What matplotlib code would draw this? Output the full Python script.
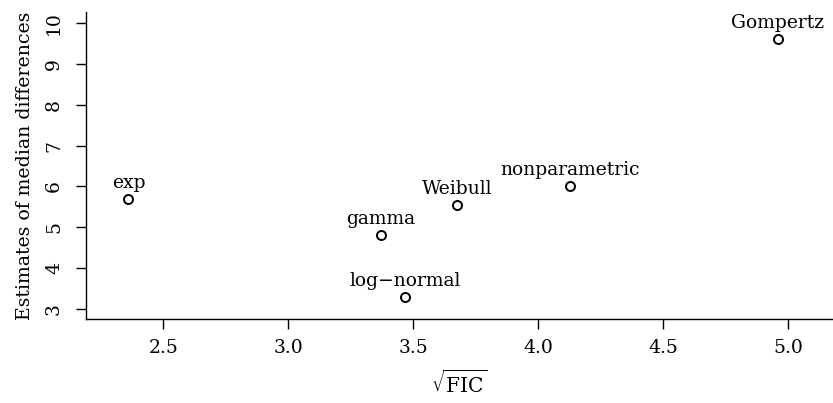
import matplotlib
matplotlib.use("Agg")
import matplotlib.pyplot as plt

# model estimates: sqrt(FIC) vs estimated median difference
models = ["exp", "gamma", "log\u2212normal", "Weibull", "nonparametric", "Gompertz"]
sqrt_fic = [2.36, 3.37, 3.466, 3.673, 4.126, 4.957]
med_diff = [5.68, 4.81, 3.28, 5.54, 6.01, 9.61]

plt.rcParams["font.family"] = ["DejaVu Serif"]
plt.rcParams["mathtext.fontset"] = "dejavuserif"

fig = plt.figure(figsize=(8.33, 4.03), dpi=100)
ax = fig.add_axes([0.1032, 0.2077, 1 - 0.1032, 0.9695 - 0.2077])

ax.plot(sqrt_fic, med_diff, "o", markersize=6.5, markerfacecolor="none",
        markeredgecolor="black", markeredgewidth=1.4, clip_on=False)
for name, x, y in zip(models, sqrt_fic, med_diff):
    ax.annotate(name, (x, y), xytext=(0, 5), textcoords="offset points",
                ha="center", va="bottom", fontsize=13.5)

ax.set_xlim(2.19, 5.178)
ax.set_ylim(2.74, 10.27)
ax.set_xticks([2.5, 3.0, 3.5, 4.0, 4.5, 5.0])
ax.set_yticks(range(3, 11))

for s in ["top", "right"]:
    ax.spines[s].set_visible(False)
for s in ["left", "bottom"]:
    ax.spines[s].set_linewidth(1.0)

ax.tick_params(axis="both", length=7.5, width=1.0, labelsize=13.5)
ax.tick_params(axis="x", pad=7)
ax.tick_params(axis="y", pad=9)
for lab in ax.get_yticklabels():
    lab.set_rotation(90)
    lab.set_va("center")

ax.set_xlabel(r"$\sqrt{\mathrm{FIC}}$", fontsize=14.5, labelpad=9)
ax.set_ylabel("Estimates of median differences", fontsize=13.6, labelpad=8)

fig.savefig("out.png", dpi=100)
